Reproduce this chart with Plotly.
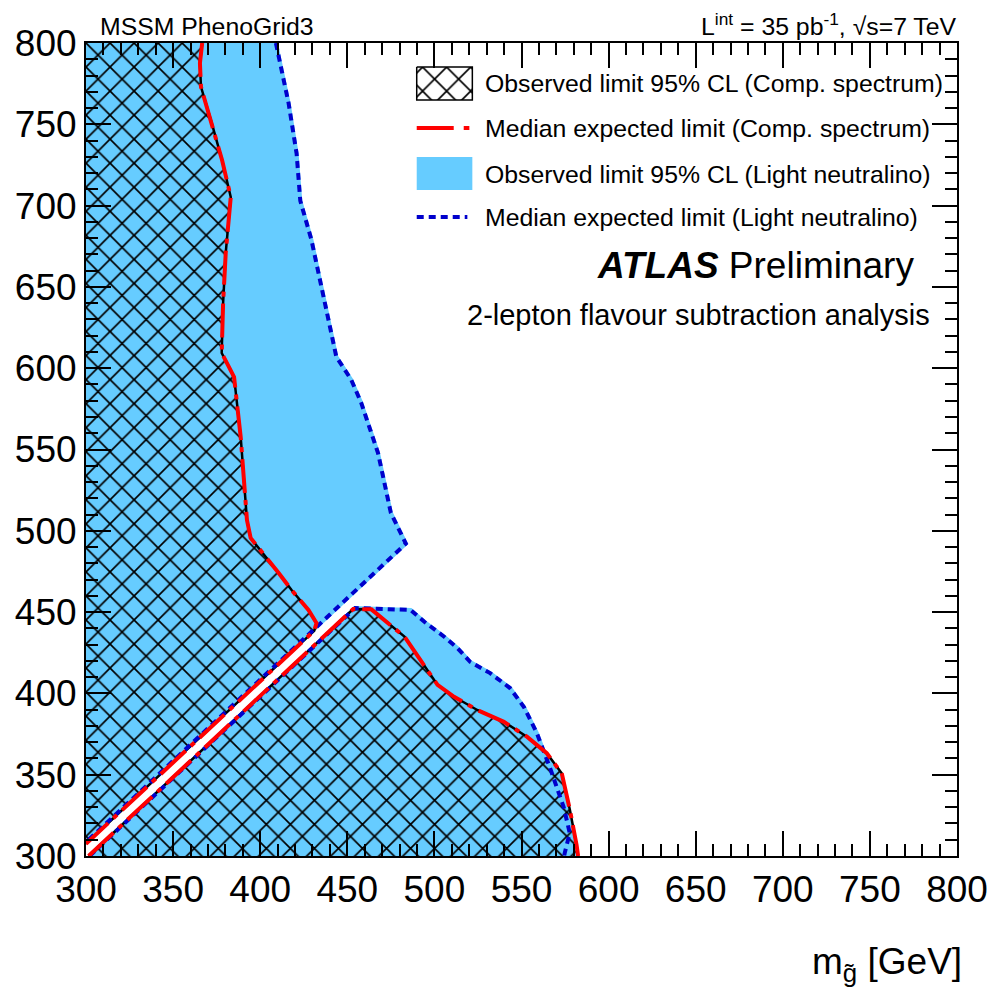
import plotly.graph_objects as go

# ---- exclusion contours in the (gluino mass, squark mass) plane [GeV] ----
# Compressed spectrum: observed 95% CL contour (hatched) / median expected (red)
comp_up_g = [366.7, 365.4, 366.0, 371.7, 378.1, 383.1, 380.2, 378.7, 377.9, 382.1, 385.0,
             388.8, 392.4, 394.5, 400.2, 410.6, 418.0, 427.7, 432.3, 431.0, 300.0]
comp_up_sq = [800.0, 787.7, 773.0, 752.6, 728.0, 705.3, 670.8, 640.1, 609.3, 600.7, 594.6,
              557.7, 506.6, 495.6, 488.2, 474.0, 463.6, 451.3, 443.3, 438.5, 307.5]
comp_lo_g = [301.5, 453.4, 463.8, 482.8, 501.8, 511.3, 524.6, 539.9, 553.1, 564.5, 573.1,
             577.8, 581.6, 582.5]
comp_lo_sq = [300.0, 451.9, 451.7, 434.9, 405.2, 397.9, 389.8, 382.5, 373.4, 363.2, 350.9,
              328.3, 306.8, 300.0]

# Light neutralino: observed 95% CL region (light blue) / median expected (blue dotted)
ln_up_g = [409.0, 416.3, 420.9, 423.0, 429.4, 435.1, 440.8, 443.7, 452.2, 457.9, 467.6,
           475.0, 483.6, 300.0]
ln_up_sq = [800.0, 763.0, 732.0, 703.0, 679.0, 650.0, 623.5, 607.0, 593.0, 579.0, 548.0,
            511.0, 492.1, 308.5]
ln_lo_g = [302.0, 454.5, 486.4, 494.4, 505.8, 513.2, 520.6, 532.0, 543.4, 551.4, 558.8,
           566.2, 574.2, 577.7, 574.8, 574.5]
ln_lo_sq = [300.0, 452.5, 451.3, 443.9, 434.7, 427.9, 419.3, 412.5, 403.3, 391.6, 375.6,
            354.7, 330.1, 314.1, 301.8, 300.0]

x_range = [300, 800]
y_range = [300, 800]
tick_vals = list(range(300, 801, 50))

legend_labels = [
    "Observed limit 95% CL (Comp. spectrum)",
    "Median expected limit (Comp. spectrum)",
    "Observed limit 95% CL (Light neutralino)",
    "Median expected limit (Light neutralino)",
]

FONT = "Liberation Sans, Arial, Helvetica, sans-serif"
LIGHT_BLUE = "#66CCFF"
DARK_BLUE = "#0000CC"
RED = "#FF0000"
RED_DASH = "34px,7px,5px,7px"
BLUE_DOT = "7px,5px"

W, H = 1000, 999
ML, MR, MT, MB = 86, 37, 43, 143
PW, PH = W - ML - MR, H - MT - MB


def px_x(px):
    """Horizontal pixel position -> paper fraction."""
    return (px - ML) / PW


def px_y(py):
    """Vertical pixel position (from top) -> paper fraction."""
    return (H - MB - py) / PH


hatch = dict(shape="x", size=17, solidity=0.19, fgcolor="black",
             bgcolor=LIGHT_BLUE, fillmode="replace")

fig = go.Figure()

# light neutralino observed regions (closed against the plot corner / bottom edge)
fig.add_trace(go.Scatter(
    x=ln_up_g + [x_range[0]], y=ln_up_sq + [y_range[1]],
    fill="toself", fillcolor=LIGHT_BLUE, mode="lines",
    line=dict(color=LIGHT_BLUE, width=4), hoverinfo="skip", showlegend=False))
fig.add_trace(go.Scatter(
    x=ln_lo_g, y=ln_lo_sq,
    fill="toself", fillcolor=LIGHT_BLUE, mode="lines",
    line=dict(color=LIGHT_BLUE, width=4), hoverinfo="skip", showlegend=False))

# compressed spectrum observed regions (hatched)
fig.add_trace(go.Scatter(
    x=comp_up_g + [x_range[0]], y=comp_up_sq + [y_range[1]],
    fill="toself", fillcolor=LIGHT_BLUE, fillpattern=hatch, mode="lines",
    line=dict(width=0, color="rgba(0,0,0,0)"), hoverinfo="skip", showlegend=False))
fig.add_trace(go.Scatter(
    x=comp_lo_g, y=comp_lo_sq,
    fill="toself", fillcolor=LIGHT_BLUE, fillpattern=hatch, mode="lines",
    line=dict(width=0, color="rgba(0,0,0,0)"), hoverinfo="skip", showlegend=False))

# observed contour lines
for gx, sy in [(comp_up_g, comp_up_sq), (comp_lo_g, comp_lo_sq)]:
    fig.add_trace(go.Scatter(x=gx, y=sy, mode="lines",
                             line=dict(color="black", width=2.5),
                             hoverinfo="skip", showlegend=False))

# light neutralino expected (blue dotted)
for gx, sy in [(ln_up_g, ln_up_sq), (ln_lo_g, ln_lo_sq)]:
    fig.add_trace(go.Scatter(x=gx, y=sy, mode="lines",
                             line=dict(color=DARK_BLUE, width=4, dash=BLUE_DOT),
                             hoverinfo="skip", showlegend=False))

# compressed spectrum expected (red dash-dot)
for gx, sy in [(comp_up_g, comp_up_sq), (comp_lo_g, comp_lo_sq)]:
    fig.add_trace(go.Scatter(x=gx, y=sy, mode="lines",
                             line=dict(color=RED, width=4, dash=RED_DASH),
                             hoverinfo="skip", showlegend=False))

# ---- hand-built legend on a pixel-coordinate overlay axis ----
leg_x0, leg_x1 = 419, 475
fig.add_trace(go.Scatter(
    x=[leg_x0, leg_x1, leg_x1, leg_x0, leg_x0], y=[67, 67, 100, 100, 67],
    xaxis="x2", yaxis="y2", fill="toself", fillcolor="white",
    fillpattern=dict(shape="x", size=17, solidity=0.19, fgcolor="black",
                     bgcolor="white", fillmode="replace"),
    mode="lines", line=dict(color="black", width=1.5), hoverinfo="skip", showlegend=False))
fig.add_trace(go.Scatter(
    x=[leg_x0, leg_x1 - 3], y=[128, 128], xaxis="x2", yaxis="y2", mode="lines",
    line=dict(color=RED, width=4, dash="37px,10px,6px,10px"),
    hoverinfo="skip", showlegend=False))
fig.add_trace(go.Scatter(
    x=[leg_x0, leg_x1, leg_x1, leg_x0, leg_x0], y=[157, 157, 190, 190, 157],
    xaxis="x2", yaxis="y2", fill="toself", fillcolor=LIGHT_BLUE, mode="lines",
    line=dict(width=0, color=LIGHT_BLUE), hoverinfo="skip", showlegend=False))
fig.add_trace(go.Scatter(
    x=[leg_x0, leg_x1 - 5], y=[217, 217], xaxis="x2", yaxis="y2", mode="lines",
    line=dict(color=DARK_BLUE, width=4, dash=BLUE_DOT), hoverinfo="skip", showlegend=False))

annotations = []
for label, yc in zip(legend_labels, [83, 128, 174, 218]):
    annotations.append(dict(x=px_x(486), y=px_y(yc), xref="paper", yref="paper", text=label,
                            showarrow=False, xanchor="left", yanchor="middle",
                            font=dict(family=FONT, size=24.8, color="black")))

annotations += [
    dict(x=px_x(922), y=px_y(265), xref="paper", yref="paper",
         text="<b><i>ATLAS</i></b> Preliminary", showarrow=False,
         xanchor="right", yanchor="middle", font=dict(family=FONT, size=37, color="black")),
    dict(x=px_x(938), y=px_y(315), xref="paper", yref="paper",
         text="2-lepton flavour subtraction analysis", showarrow=False,
         xanchor="right", yanchor="middle", font=dict(family=FONT, size=29, color="black")),
    dict(x=px_x(98), y=px_y(26), xref="paper", yref="paper", text="MSSM PhenoGrid3",
         showarrow=False, xanchor="left", yanchor="middle",
         font=dict(family=FONT, size=24.8, color="black")),
    dict(x=px_x(965), y=px_y(24), xref="paper", yref="paper",
         text="L<sup>int</sup> = 35 pb<sup>-1</sup>, \u221as=7 TeV", showarrow=False,
         xanchor="right", yanchor="middle", font=dict(family=FONT, size=24.8, color="black")),
    dict(x=px_x(970), y=px_y(964), xref="paper", yref="paper",
         text="m<sub>g\u0303</sub> [GeV]", showarrow=False,
         xanchor="right", yanchor="middle", font=dict(family=FONT, size=37, color="black")),
]

axis_common = dict(
    showgrid=False, zeroline=False,
    showline=True, linecolor="black", linewidth=2, mirror="ticks",
    ticks="inside", ticklen=25, tickwidth=1.5, tickcolor="black",
    tickvals=tick_vals,
    tickfont=dict(family=FONT, size=37, color="black"),
    minor=dict(ticks="inside", ticklen=12, tickwidth=1.5, tickcolor="black", dtick=10),
)

overlay_common = dict(showgrid=False, zeroline=False, showline=False, ticks="",
                      showticklabels=False, fixedrange=True)

fig.update_layout(
    width=W, height=H,
    margin=dict(l=ML, r=MR, t=MT, b=MB, pad=0),
    paper_bgcolor="white", plot_bgcolor="white",
    font=dict(family=FONT, color="black"),
    showlegend=False,
    xaxis=dict(range=x_range, **axis_common),
    yaxis=dict(range=y_range, **axis_common),
    xaxis2=dict(overlaying="x", range=[ML, W - MR], **overlay_common),
    yaxis2=dict(overlaying="y", range=[H - MB, MT], **overlay_common),
    annotations=annotations,
)

fig.write_html("out.html")
